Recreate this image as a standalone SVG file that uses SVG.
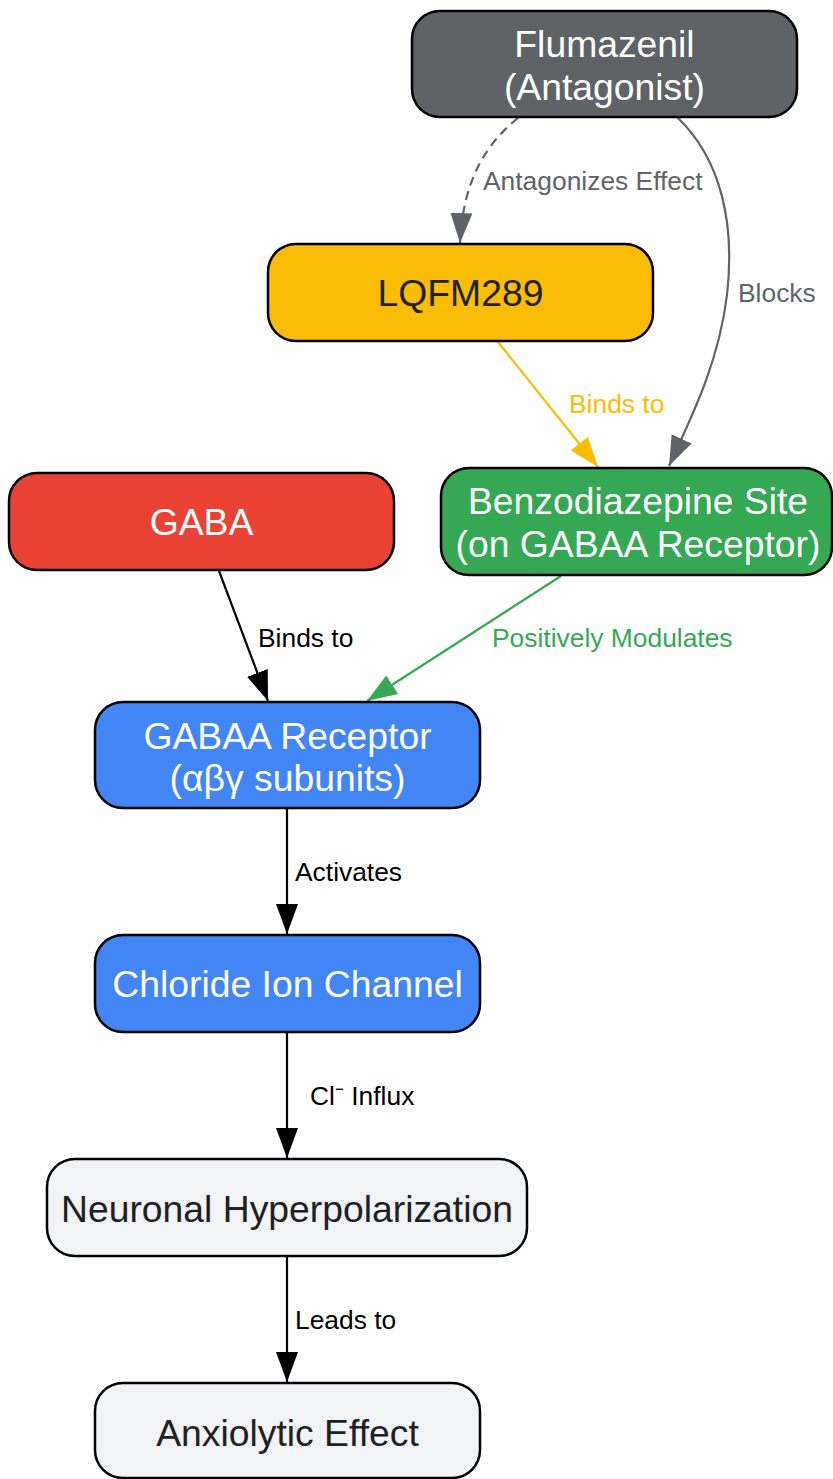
<svg xmlns="http://www.w3.org/2000/svg" width="833" height="1479" viewBox="0 0 833 1479">
<defs>
<style>
.n{stroke:#000;stroke-width:2.5}
.t{font-family:"Liberation Sans",Arial,sans-serif;font-size:37.3px;text-anchor:middle}
.w{fill:#fff}
.d{fill:#202124}
.e{fill:none;stroke-width:2.2}
.l{font-family:"Liberation Sans",Arial,sans-serif;font-size:26.4px}
</style>
<marker id="ak" viewBox="0 0 30 22" refX="30" refY="11" markerWidth="30" markerHeight="22" markerUnits="userSpaceOnUse" orient="auto"><path d="M0,0L30,11L0,22z" fill="#000"/></marker>
<marker id="ag" viewBox="0 0 30 22" refX="30" refY="11" markerWidth="30" markerHeight="22" markerUnits="userSpaceOnUse" orient="auto"><path d="M0,0L30,11L0,22z" fill="#5f6368"/></marker>
<marker id="ay" viewBox="0 0 30 22" refX="30" refY="11" markerWidth="30" markerHeight="22" markerUnits="userSpaceOnUse" orient="auto"><path d="M0,0L30,11L0,22z" fill="#fbbc04"/></marker>
<marker id="an" viewBox="0 0 30 22" refX="30" refY="11" markerWidth="30" markerHeight="22" markerUnits="userSpaceOnUse" orient="auto"><path d="M0,0L30,11L0,22z" fill="#34a853"/></marker>
</defs>
<g id="connectors">
<path class="e" d="M518,118 C488,142 463,178 460,243" stroke="#5f6368" stroke-dasharray="9,6" marker-end="url(#ag)"/>
<text class="l" x="483" y="190" fill="#5f6368">Antagonizes Effect</text>
<path class="e" d="M677,117 C722,160 735,225 727,295 C719,360 695,410 669,466" stroke="#5f6368" marker-end="url(#ag)"/>
<text class="l" x="738" y="302" fill="#5f6368">Blocks</text>
<path class="e" d="M498,342 L598,467" stroke="#fbbc04" marker-end="url(#ay)"/>
<text class="l" x="569" y="413" fill="#fbbc04">Binds to</text>
<path class="e" d="M219,571 L268,701" stroke="#000" marker-end="url(#ak)"/>
<text class="l" x="258" y="647" fill="#000">Binds to</text>
<path class="e" d="M561,576 L367,701" stroke="#34a853" marker-end="url(#an)"/>
<text class="l" x="492" y="647" fill="#34a853">Positively Modulates</text>
<path class="e" d="M287,808 L287,934" stroke="#000" marker-end="url(#ak)"/>
<text class="l" x="295" y="881" fill="#000">Activates</text>
<path class="e" d="M287,1032 L287,1158" stroke="#000" marker-end="url(#ak)"/>
<text class="l" x="310" y="1105" fill="#000">Cl⁻ Influx</text>
<path class="e" d="M287,1256 L287,1382" stroke="#000" marker-end="url(#ak)"/>
<text class="l" x="295" y="1329" fill="#000">Leads to</text>
</g>
<g id="flumazenil">
<rect class="n" x="412" y="11" width="385" height="106" rx="28" fill="#5f6368"/>
<text class="t w" x="604.5" y="57">Flumazenil</text>
<text class="t w" x="604.5" y="100">(Antagonist)</text>
</g>
<g id="lqfm289">
<rect class="n" x="268" y="244" width="385" height="97" rx="28" fill="#fbbc05"/>
<text class="t d" x="460.5" y="306">LQFM289</text>
</g>
<g id="gaba">
<rect class="n" x="9" y="473" width="385" height="97" rx="28" fill="#ea4335"/>
<text class="t w" x="201.5" y="535">GABA</text>
</g>
<g id="benzo">
<rect class="n" x="441" y="468" width="391" height="107" rx="28" fill="#34a853"/>
<text class="t w" x="638" y="514">Benzodiazepine Site</text>
<text class="t w" x="638" y="557">(on GABAA Receptor)</text>
</g>
<g id="gabaa">
<rect class="n" x="95" y="702" width="385" height="106" rx="28" fill="#4285f4"/>
<text class="t w" x="287.5" y="749">GABAA Receptor</text>
<text class="t w" x="287.5" y="791">(αβγ subunits)</text>
</g>
<g id="chloride">
<rect class="n" x="95" y="935" width="385" height="97" rx="28" fill="#4285f4"/>
<text class="t w" x="287.5" y="997">Chloride Ion Channel</text>
</g>
<g id="neuronal">
<rect class="n" x="47" y="1159" width="480" height="97" rx="28" fill="#f1f3f4"/>
<text class="t d" x="287" y="1222">Neuronal Hyperpolarization</text>
</g>
<g id="anxiolytic">
<rect class="n" x="95" y="1383" width="385" height="95" rx="28" fill="#f1f3f4"/>
<text class="t d" x="287.5" y="1446">Anxiolytic Effect</text>
</g>
</svg>
